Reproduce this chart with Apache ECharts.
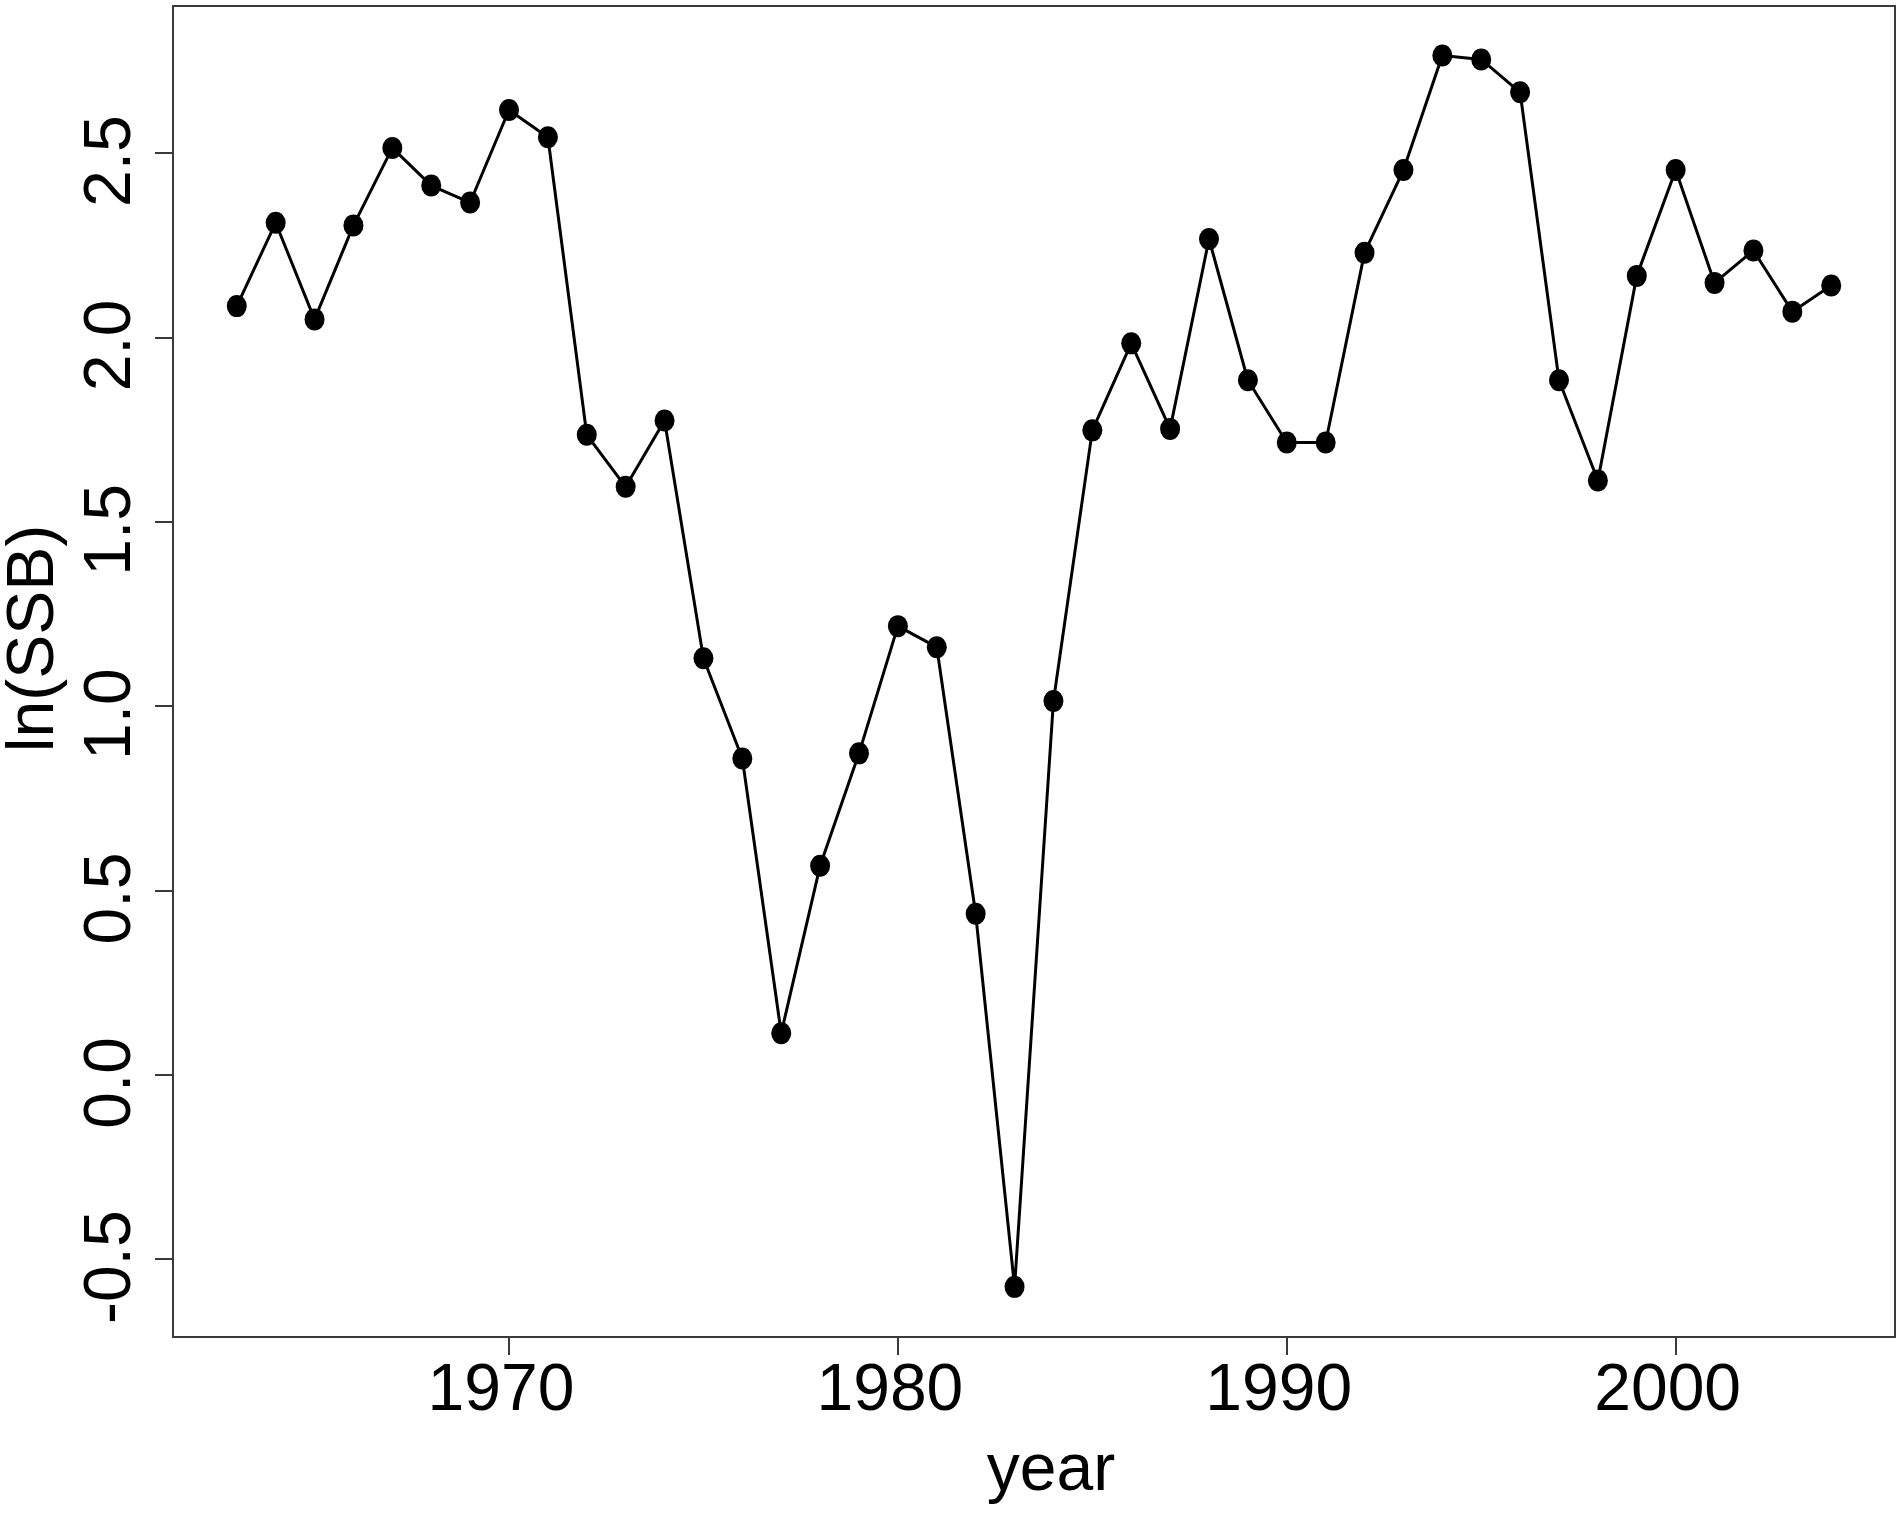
<!DOCTYPE html>
<html>
<head>
<meta charset="utf-8">
<script src="https://cdn.jsdelivr.net/npm/echarts@6/dist/echarts.min.js"></script>
<style>
html,body{margin:0;padding:0;background:#fff;}
#chart{width:1899px;height:1518px;}
</style>
</head>
<body>
<div id="chart"></div>
<script>
var years = [1963,1964,1965,1966,1967,1968,1969,1970,1971,1972,1973,1974,1975,1976,1977,1978,1979,1980,1981,1982,1983,1984,1985,1986,1987,1988,1989,1990,1991,1992,1993,1994,1995,1996,1997,1998,1999,2000,2001,2002,2003,2004];
var lnSSB = [2.085,2.311,2.049,2.304,2.514,2.412,2.366,2.617,2.543,1.736,1.595,1.775,1.130,0.858,0.113,0.567,0.872,1.217,1.160,0.437,-0.575,1.014,1.748,1.984,1.752,2.267,1.884,1.715,1.715,2.230,2.454,2.765,2.754,2.665,1.884,1.612,2.167,2.454,2.148,2.236,2.070,2.141];
var xTicks = [1970,1980,1990,2000];
var yTicks = [-0.5,0.0,0.5,1.0,1.5,2.0,2.5];

var FONT = "'Liberation Sans', Arial, sans-serif";
var chart = echarts.init(document.getElementById('chart'), null, {renderer:'canvas'});
var pts = years.map(function(y,i){return [y, lnSSB[i]];});

chart.setOption({
  backgroundColor:'#ffffff',
  animation:false,
  grid:{left:173, top:6, width:1722, height:1331, show:true, borderColor:'#3a3a3a', borderWidth:2, containLabel:false, outerBoundsMode:'none'},
  xAxis:{
    type:'value', min:1961.36, max:2005.64, position:'bottom',
    axisLine:{show:false, onZero:false},
    splitLine:{show:false},
    axisTick:{show:true, length:18, lineStyle:{color:'#3a3a3a', width:2}, customValues:xTicks},
    axisLabel:{show:true, customValues:xTicks, margin:22, fontSize:66, fontFamily:FONT, color:'#000', padding:[0,16,0,0],
      formatter:function(v){return String(Math.round(v));}},
    name:'year', nameLocation:'middle', nameGap:102,
    nameTextStyle:{fontSize:66, fontFamily:FONT, color:'#000', padding:[0,0,0,34]}
  },
  yAxis:{
    type:'value', min:-0.711, max:2.899, position:'left',
    axisLine:{show:false, onZero:false},
    splitLine:{show:false},
    axisTick:{show:true, length:18, lineStyle:{color:'#3a3a3a', width:2}, customValues:yTicks},
    axisLabel:{show:true, customValues:yTicks, rotate:90, margin:28, fontSize:66, fontFamily:FONT, color:'#000', padding:[0,16,0,0],
      formatter:function(v){return v.toFixed(1);}},
    name:'ln(SSB)', nameLocation:'middle', nameRotate:90, nameGap:105,
    nameTextStyle:{fontSize:66, fontFamily:FONT, color:'#000', padding:[0,0,0,66]}
  },
  series:[{
    type:'line', data:pts,
    symbol:'circle', symbolSize:[20,22],
    itemStyle:{color:'#000'},
    lineStyle:{color:'#000', width:3},
    emphasis:{disabled:true}
  }]
});
</script>
</body>
</html>
